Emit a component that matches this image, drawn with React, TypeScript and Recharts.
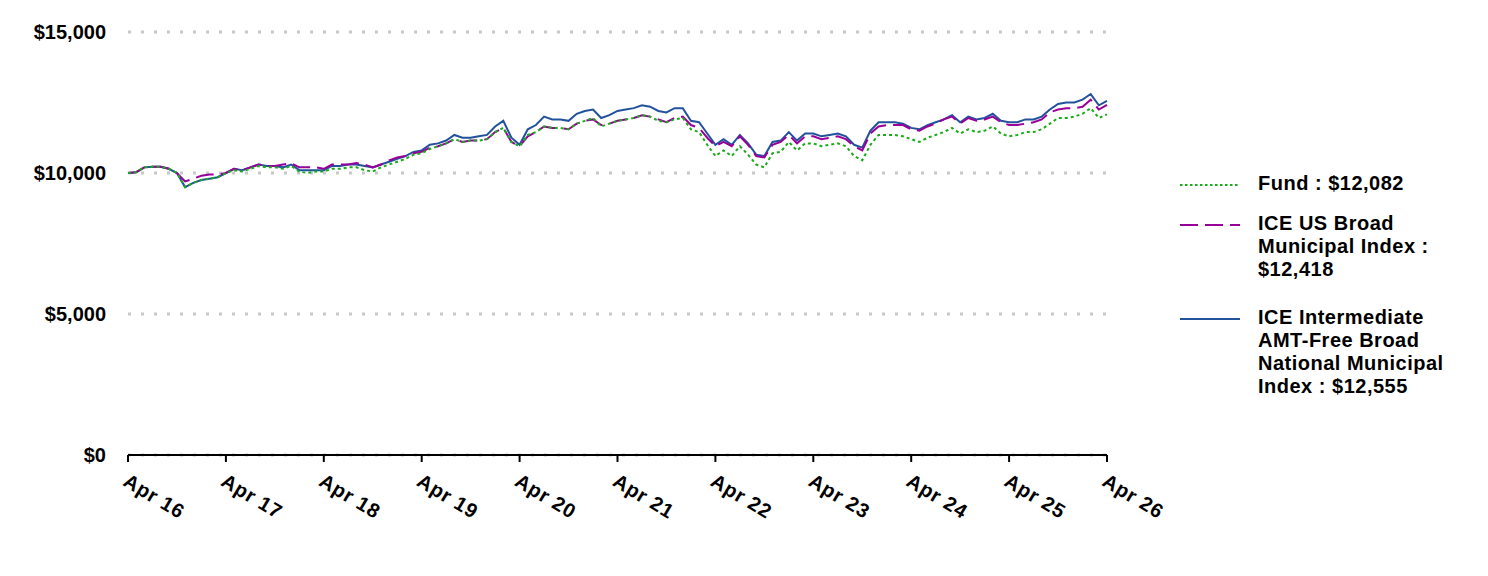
import React from "react";
import { LineChart, Line, XAxis, YAxis, CartesianGrid, Legend } from "recharts";

const MONTH_NAMES = ["Jan","Feb","Mar","Apr","May","Jun","Jul","Aug","Sep","Oct","Nov","Dec"];
const START_MONTH = 3; // April
const START_YEAR = 16;
const MONTH_COUNT = 121;

const xTickLabels = ["Apr 16","Apr 17","Apr 18","Apr 19","Apr 20","Apr 21","Apr 22","Apr 23","Apr 24","Apr 25","Apr 26"];
const yTicks = [0, 5000, 10000, 15000];

const fund = [
  10000,10030,10200,10220,10220,10150,10000,9500,9650,9750,9800,9850,
  10000,10100,10050,10150,10250,10200,10200,10150,10250,10050,10000,10050,
  10050,10150,10150,10200,10200,10100,10050,10200,10300,10400,10500,10650,
  10700,10850,10950,11050,11200,11100,11150,11150,11200,11450,11600,11100,
  10950,11350,11450,11650,11600,11600,11550,11750,11850,11950,11650,11750,
  11850,11900,11950,12050,12000,11850,11800,11900,11950,11550,11450,11000,
  10600,10800,10600,10950,10650,10300,10200,10700,10750,11100,10800,11050,
  11050,10950,11000,11050,10950,10600,10450,11000,11350,11350,11350,11300,
  11200,11100,11250,11350,11450,11600,11400,11550,11450,11500,11650,11400,
  11300,11350,11450,11450,11550,11750,11950,11950,12000,12100,12300,11950,
  12082
];

const broad = [
  10000,10030,10200,10220,10220,10150,10000,9700,9800,9900,9950,9950,
  10000,10150,10100,10200,10300,10250,10250,10300,10350,10200,10200,10200,
  10150,10300,10300,10300,10350,10300,10200,10300,10450,10550,10600,10700,
  10750,10900,10950,11050,11200,11100,11150,11150,11200,11450,11600,11100,
  10950,11300,11450,11650,11600,11600,11550,11750,11850,11900,11700,11750,
  11850,11900,11950,12050,12000,11900,11800,11950,12000,11700,11600,11250,
  10950,11100,10950,11300,11000,10600,10550,11000,11100,11350,11050,11300,
  11300,11200,11250,11300,11200,10950,10800,11400,11650,11700,11700,11700,
  11550,11500,11650,11750,11900,12000,11750,11950,11850,11900,12000,11800,
  11700,11700,11750,11800,11900,12150,12250,12300,12300,12350,12600,12250,
  12418
];

const intermediate = [
  10000,10030,10200,10220,10220,10150,10000,9500,9650,9750,9800,9850,
  10000,10150,10100,10200,10300,10250,10250,10200,10300,10100,10100,10100,
  10100,10250,10250,10300,10300,10250,10200,10300,10400,10500,10600,10750,
  10800,11000,11050,11150,11350,11250,11250,11300,11350,11650,11850,11250,
  11000,11550,11700,12000,11900,11900,11850,12100,12200,12250,11950,12050,
  12200,12250,12300,12400,12350,12200,12150,12300,12300,11850,11800,11400,
  11000,11200,11000,11350,11050,10650,10600,11100,11150,11450,11150,11400,
  11400,11300,11350,11400,11300,11000,10900,11500,11800,11800,11800,11750,
  11600,11550,11700,11800,11900,12050,11800,12000,11900,11950,12100,11850,
  11800,11800,11900,11900,12000,12250,12450,12500,12500,12600,12800,12400,
  12555
];

const months: string[] = [];
for (let i = 0; i < MONTH_COUNT; i++) {
  const m = (START_MONTH + i) % 12;
  const y = START_YEAR + Math.floor((START_MONTH + i) / 12);
  months.push(`${MONTH_NAMES[m]} ${y}`);
}

const data = months.map((month, i) => ({
  month,
  fund: fund[i],
  broad: broad[i],
  intermediate: intermediate[i],
}));

const FONT = "'Liberation Sans', Arial, sans-serif";
const GREEN = "#1aab1a";
const PURPLE = "#990099";
const BLUE = "#23529c";

const legendItems = [
  { color: GREEN, dash: "2.5 2.5", lines: ["Fund : $12,082"], top: 0 },
  { color: PURPLE, dash: "18 7", lines: ["ICE US Broad", "Municipal Index :", "$12,418"], top: 40 },
  { color: BLUE, dash: undefined as string | undefined, lines: ["ICE Intermediate", "AMT-Free Broad", "National Municipal", "Index : $12,555"], top: 134 },
];

const LegendContent = () => (
  <div style={{ position: "relative", width: 300, height: 240, fontFamily: FONT }}>
    {legendItems.map((it, k) => (
      <div key={k} style={{ position: "absolute", left: 0, top: it.top }}>
        <svg width={62} height={6} style={{ position: "absolute", left: 0, top: 9 }}>
          <line x1={0} y1={3} x2={60} y2={3} stroke={it.color} strokeWidth={2} strokeDasharray={it.dash} />
        </svg>
        <div style={{ position: "absolute", left: 78, top: -1, width: 220, fontSize: 20, fontWeight: "bold", lineHeight: "23px", color: "#000", letterSpacing: 0.5, whiteSpace: "nowrap" }}>
          {it.lines.map((l, j) => (<div key={j}>{l}</div>))}
        </div>
      </div>
    ))}
  </div>
);

const XTick = (props: any) => {
  const { x, y, payload } = props;
  return (
    <g transform={`translate(${x - 2},${y + 14})`}>
      <text x={0} y={0} dy={8} transform="rotate(31)" textAnchor="start" fill="#000" fontFamily={FONT} fontWeight="bold" fontSize={20} letterSpacing={0.8}>
        {payload.value}
      </text>
    </g>
  );
};

export default function App() {
  return (
    <div style={{ position: "relative", width: 1480, height: 568 }}>
      <LineChart width={1480} height={568} data={data} margin={{ top: 24, right: 381, bottom: 41, left: 0 }}>
        <CartesianGrid vertical={false} stroke="#c8c8c8" strokeWidth={3} strokeDasharray="3 10" />
        <XAxis
          dataKey="month"
          ticks={xTickLabels}
          interval={0}
          height={80}
          tick={<XTick />}
          tickSize={7}
          axisLine={{ stroke: "#000", strokeWidth: 2 }}
          tickLine={{ stroke: "#000", strokeWidth: 2 }}
        />
        <YAxis
          width={120}
          domain={[0, 15000]}
          ticks={yTicks}
          axisLine={false}
          tickLine={false}
          tickMargin={16}
          tickFormatter={(v: number) => `$${v.toLocaleString("en-US")}`}
          tick={{ fill: "#000", fontFamily: FONT, fontWeight: "bold", fontSize: 20 }}
        />
        <Line type="linear" dataKey="intermediate" stroke={BLUE} strokeWidth={2} dot={false} isAnimationActive={false} />
        <Line type="linear" dataKey="broad" stroke={PURPLE} strokeWidth={2} strokeDasharray="18 7" dot={false} isAnimationActive={false} />
        <Line type="linear" dataKey="fund" stroke={GREEN} strokeWidth={2} strokeDasharray="3 3" dot={false} isAnimationActive={false} />
        <Legend
          layout="horizontal"
          verticalAlign="middle"
          align="center"
          content={<LegendContent />}
          wrapperStyle={{ left: 1172, top: 165, width: 300, height: 240 }}
        />
      </LineChart>
    </div>
  );
}
